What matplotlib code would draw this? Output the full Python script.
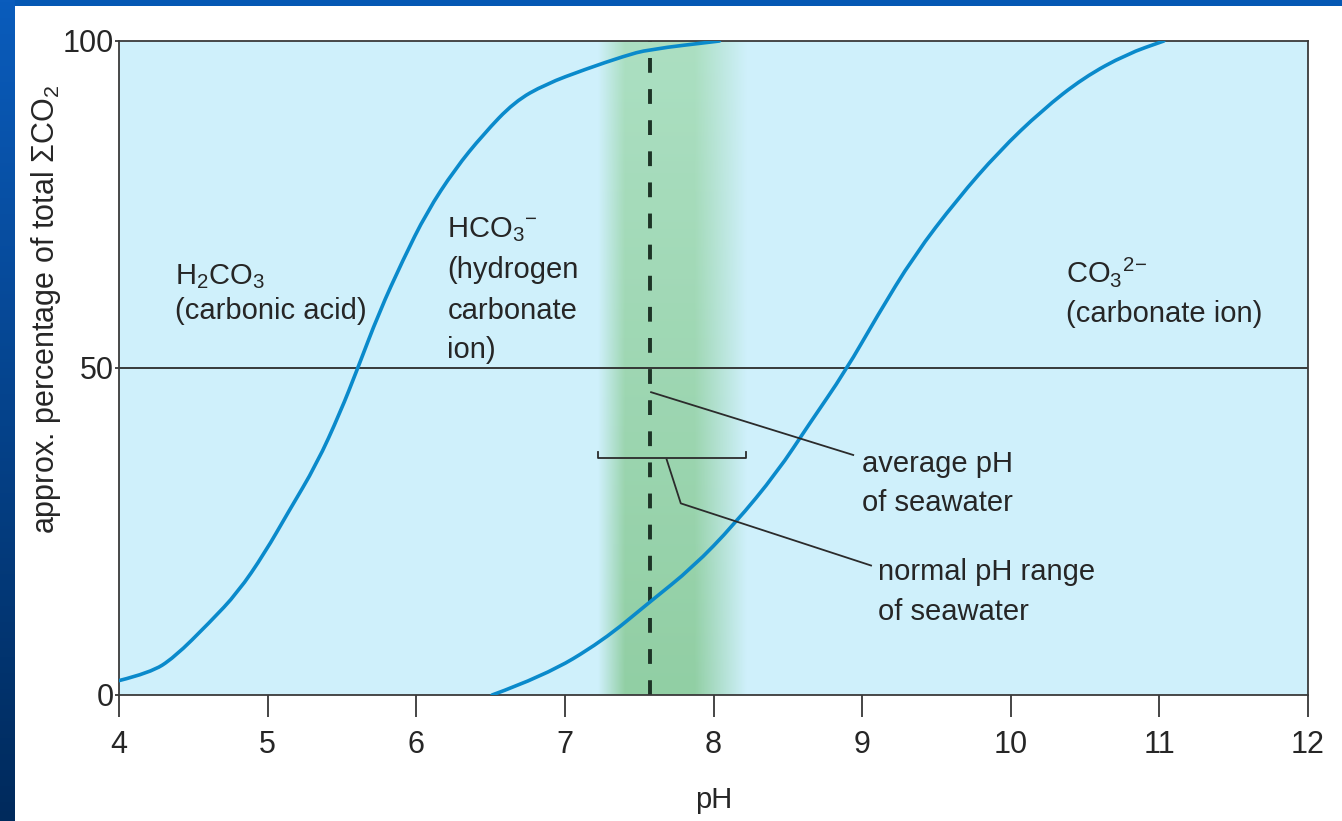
import numpy as np
import matplotlib.pyplot as plt
from matplotlib import font_manager
from matplotlib.path import Path
from matplotlib.patches import PathPatch

# pick a narrow sans if available
installed = {f.name for f in font_manager.fontManager.ttflist}
font = 'Liberation Sans Narrow' if 'Liberation Sans Narrow' in installed else 'Liberation Sans'
plt.rcParams['font.family'] = [font, 'DejaVu Sans']
plt.rcParams['mathtext.fontset'] = 'custom'
plt.rcParams['mathtext.rm'] = font
plt.rcParams['mathtext.it'] = font
plt.rcParams['mathtext.bf'] = font

# data
ph_acid = [4.0, 4.21, 4.37, 4.61, 4.80, 4.98, 5.14, 5.33, 5.49, 5.60, 5.75,
           5.91, 6.07, 6.26, 6.45, 6.66, 6.87, 7.14, 7.40, 7.56, 8.04]
pct_acid = [2.2, 3.4, 5.7, 11.1, 15.7, 21.7, 28.0, 35.3, 43.3, 49.6, 58.5,
            66.5, 73.8, 80.4, 85.7, 90.7, 93.4, 95.7, 97.7, 98.7, 100]

ph_carb = [6.51, 6.86, 7.25, 7.57, 7.86, 8.14, 8.43, 8.64, 8.89, 9.10, 9.35,
           9.64, 9.92, 10.21, 10.49, 10.78, 11.03]
pct_carb = [0, 2.9, 8.2, 14.2, 19.5, 26.1, 34.1, 41.3, 49.6, 57.9, 67.2,
            75.8, 83.1, 89.4, 94.4, 98.0, 100]

ph_avg = 7.57
range_lo, range_hi = 7.22, 8.22
range_level = 36.2

x_ticks = [4, 5, 6, 7, 8, 9, 10, 11, 12]
y_ticks = [0, 50, 100]

txt = '#262626'
curve_col = '#0a8acb'


def smooth_path(xs, ys):
    """quadratic bezier through the midpoints of the read points"""
    pts = np.column_stack([xs, ys])
    verts = [pts[0]]
    codes = [Path.MOVETO]
    for i in range(1, len(pts) - 1):
        verts += [pts[i], (pts[i] + pts[i + 1]) / 2]
        codes += [Path.CURVE3, Path.CURVE3]
    verts.append(pts[-1])
    codes.append(Path.LINETO)
    return Path(verts, codes)


fig = plt.figure(figsize=(13.42, 8.21), dpi=100)
fig.patch.set_facecolor('white')

# blue slide frame (top and left strips)
top = fig.add_axes([0, 1 - 6 / 821, 1, 6 / 821])
top.axis('off')
top.add_patch(plt.Rectangle((0, 0), 1, 1, color='#0558b4', transform=top.transAxes))
left = fig.add_axes([0, 0, 14 / 1342, 1])
left.axis('off')
grad = np.linspace(0, 1, 256)[:, None]
c0 = np.array([0x0a, 0x5c, 0xbc]) / 255
c1 = np.array([0x00, 0x2a, 0x5c]) / 255
left.imshow((c0 + (c1 - c0) * grad[..., None]) * np.ones((1, 2, 1)),
            aspect='auto', extent=[0, 1, 0, 1])

ax = fig.add_axes([119 / 1342, 1 - 695 / 821, (1308 - 119) / 1342, (695 - 41) / 821])
ax.set_facecolor('#cff0fb')

# green band for the normal seawater pH range
bx = np.linspace(range_lo, range_hi, 300)
alpha = np.interp(bx, [range_lo, range_lo + 0.18, range_lo + 0.65, range_hi],
                  [0.0, 1.0, 1.0, 0.0])
by = np.linspace(0, 1, 100)[:, None]
band = np.zeros((100, 300, 4))
cg_top = np.array([160, 218, 175]) / 255
cg_bot = np.array([125, 196, 135]) / 255
band[..., :3] = cg_bot + (cg_top - cg_bot) * by[..., None]
band[..., 3] = alpha[None, :] * 0.75
ax.imshow(band, extent=[range_lo, range_hi, 0, 100], aspect='auto',
          origin='lower', zorder=0.5, interpolation='bilinear')

ax.axhline(50, color='#2b2b2b', lw=1.3, zorder=1)
ax.plot([ph_avg, ph_avg], [0, 100], color='#1d3326', lw=2.8,
        linestyle=(0, (3.8, 4.2)), zorder=2)

for xs, ys in [(ph_acid, pct_acid), (ph_carb, pct_carb)]:
    ax.add_patch(PathPatch(smooth_path(xs, ys), fill=False, edgecolor=curve_col,
                           lw=2.6, capstyle='round', zorder=3))

# range bracket and leader lines
ax.plot([range_lo, range_lo, range_hi, range_hi],
        [range_level + 0.9, range_level, range_level, range_level + 0.9],
        color='#2b2b2b', lw=1.3, zorder=4)
ax.plot([7.58, 8.94], [46.3, 36.7], color='#2b2b2b', lw=1.3, zorder=4)
ax.plot([7.685, 7.78, 9.06], [36.0, 29.3, 19.8], color='#2b2b2b', lw=1.3, zorder=4)

fs = 21
ax.text(4.38, 62.8, r'H$_2$CO$_3$', fontsize=fs, color=txt)
ax.text(4.38, 57.5, '(carbonic acid)', fontsize=fs, color=txt)
ax.text(6.21, 70.0, r'HCO$_3{}^{-}$', fontsize=fs, color=txt)
ax.text(6.21, 63.8, '(hydrogen', fontsize=fs, color=txt)
ax.text(6.21, 57.5, 'carbonate', fontsize=fs, color=txt)
ax.text(6.21, 51.6, 'ion)', fontsize=fs, color=txt)
ax.text(10.37, 63.1, r'CO$_3{}^{2\!-}$', fontsize=fs, color=txt)
ax.text(10.37, 57.0, '(carbonate ion)', fontsize=fs, color=txt)
ax.text(9.0, 34.1, 'average pH', fontsize=fs, color=txt)
ax.text(9.0, 28.1, 'of seawater', fontsize=fs, color=txt)
ax.text(9.11, 17.6, 'normal pH range', fontsize=fs, color=txt)
ax.text(9.11, 11.5, 'of seawater', fontsize=fs, color=txt)

ax.set_xlim(4, 12)
ax.set_ylim(0, 100)
ax.set_xticks(x_ticks)
ax.set_yticks(y_ticks)
ax.tick_params(axis='x', direction='out', length=16, width=1.2, pad=9,
               labelsize=22, colors=txt)
ax.tick_params(axis='y', direction='out', length=3, width=1.2, pad=1,
               labelsize=22, colors=txt)
for s in ax.spines.values():
    s.set_color('#3a3a3a')
    s.set_linewidth(1.3)

ax.set_xlabel('pH', fontsize=21, color=txt, labelpad=19)
ax.set_ylabel(r'approx. percentage of total $\Sigma$CO$_2$', fontsize=22, color=txt)
ax.yaxis.set_label_coords(-0.047, 0.59)

fig.savefig('out.png', dpi=100)
